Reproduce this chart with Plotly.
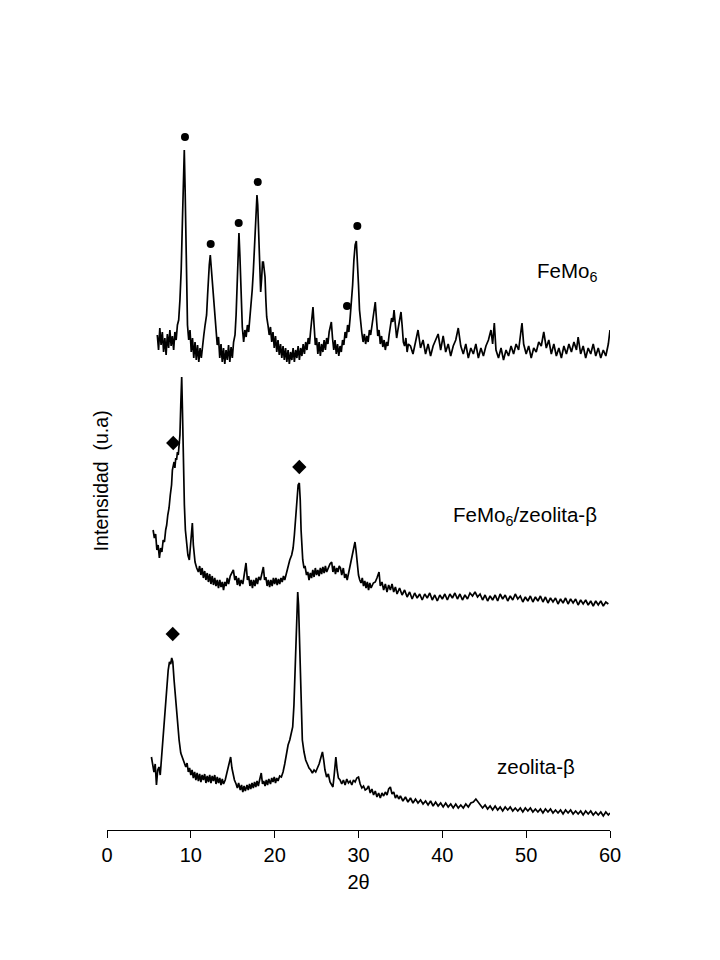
import plotly.graph_objects as go

# ---------------- data (intensity in arbitrary units, curves already stacked) ----------------
femo_x = [
    6.0, 6.15, 6.3, 6.45, 6.6, 6.75, 6.9, 7.05, 7.2, 7.35,
    7.5, 7.65, 7.8, 7.95, 8.1, 8.25, 8.4, 8.55, 8.7, 8.85,
    9.0, 9.1, 9.22, 9.32, 9.42, 9.5, 9.6, 9.75, 9.9, 10.05,
    10.2, 10.35, 10.5, 10.65, 10.8, 10.95, 11.1, 11.25, 11.4, 11.55,
    11.7, 11.88, 12.0, 12.08, 12.2, 12.32, 12.45, 12.6, 12.75, 12.88,
    13.0, 13.15, 13.3, 13.45, 13.6, 13.75, 13.9, 14.05, 14.2, 14.35,
    14.5, 14.65, 14.8, 14.95, 15.1, 15.27, 15.4, 15.55, 15.74, 15.85,
    15.94, 16.05, 16.14, 16.3, 16.45, 16.6, 16.75, 16.9, 17.05, 17.18,
    17.32, 17.45, 17.55, 17.65, 17.78, 17.89, 17.98, 18.09, 18.2, 18.33,
    18.45, 18.55, 18.65, 18.75, 18.85, 18.95, 19.05, 19.2, 19.35, 19.5,
    19.65, 19.8, 19.95, 20.1, 20.25, 20.4, 20.55, 20.7, 20.85, 21.0,
    21.15, 21.3, 21.45, 21.6, 21.75, 21.9, 22.05, 22.2, 22.35, 22.5,
    22.65, 22.8, 22.95, 23.1, 23.25, 23.4, 23.55, 23.7, 23.85, 24.0,
    24.15, 24.3, 24.45, 24.57, 24.7, 24.85, 25.0, 25.15, 25.3, 25.45,
    25.6, 25.75, 25.9, 26.05, 26.2, 26.35, 26.5, 26.62, 26.76, 26.9,
    27.05, 27.2, 27.35, 27.5, 27.65, 27.8, 27.95, 28.1, 28.25, 28.4,
    28.55, 28.7, 28.85, 29.0, 29.15, 29.3, 29.45, 29.6, 29.74, 29.88,
    30.0, 30.12, 30.25, 30.4, 30.55, 30.7, 30.85, 31.0, 31.15, 31.3,
    31.45, 31.6, 31.8, 32.0, 32.15, 32.3, 32.45, 32.6, 32.75, 32.9,
    33.05, 33.2, 33.35, 33.5, 33.65, 33.8, 33.95, 34.1, 34.24, 34.4,
    34.55, 34.7, 34.85, 35.07, 35.2, 35.35, 35.5, 35.65, 35.8, 35.95,
    36.2, 36.5, 36.8, 37.1, 37.4, 37.7, 38.0, 38.3, 38.6, 38.9,
    39.2, 39.5, 39.8, 40.1, 40.4, 40.7, 41.0, 41.3, 41.6, 41.9,
    42.2, 42.5, 42.8, 43.1, 43.4, 43.7, 44.0, 44.3, 44.6, 44.9,
    45.2, 45.5, 45.8, 46.0, 46.2, 46.4, 46.7, 47.0, 47.3, 47.6,
    47.9, 48.2, 48.5, 48.8, 49.1, 49.3, 49.5, 49.7, 50.0, 50.3,
    50.6, 50.9, 51.2, 51.5, 51.8, 52.1, 52.4, 52.7, 53.0, 53.3,
    53.6, 53.9, 54.2, 54.5, 54.8, 55.1, 55.4, 55.7, 56.0, 56.2,
    56.5, 56.8, 57.1, 57.4, 57.7, 58.0, 58.3, 58.6, 58.9, 59.2,
    59.5, 59.8, 60.0,
]
femo_y = [
    495, 480, 502, 485, 498, 478, 492, 475, 496, 482,
    500, 484, 494, 480, 498, 490, 505, 510, 530, 560,
    610, 655, 680, 640, 570, 515, 505, 490, 500, 478,
    492, 472, 488, 470, 485, 468, 482, 472, 488, 495,
    505, 515, 535, 550, 565, 575, 560, 543, 522, 508,
    495, 485, 493, 472, 486, 468, 482, 466, 480, 470,
    485, 468, 483, 472, 488, 495, 515, 560, 597, 575,
    543, 515, 503, 488, 500, 493, 505, 498, 512, 520,
    540, 558, 575, 593, 620, 635, 625, 597, 565, 538,
    552, 568, 568, 560, 553, 530, 513, 505, 495, 503,
    488, 498, 482, 494, 478, 490, 475, 486, 472, 484,
    470, 482, 468, 480, 466, 478, 470, 482, 468, 480,
    472, 484, 470, 482, 474, 486, 476, 488, 480, 492,
    486, 500, 515, 523, 505, 485, 492, 476, 488, 474,
    486, 478, 490, 480, 492, 486, 498, 505, 508, 492,
    480, 490, 476, 486, 474, 484, 478, 490, 485, 498,
    492, 505, 498, 512, 525, 545, 570, 585, 589, 570,
    545, 520, 505, 497, 488, 496, 486, 494, 488, 500,
    495, 505, 515, 528, 510, 494, 500, 486, 494, 483,
    490, 480, 488, 484, 495, 505, 512, 508, 520, 505,
    492, 500, 508, 518, 505, 488, 484, 492, 478, 486,
    484, 476, 488, 500, 482, 490, 476, 486, 474, 484,
    490, 496, 480, 494, 478, 486, 474, 484, 490, 502,
    484, 476, 486, 472, 482, 476, 486, 472, 482, 474,
    484, 490, 500, 486, 507, 480, 472, 482, 470, 480,
    474, 484, 476, 486, 480, 492, 507, 486, 476, 484,
    472, 482, 478, 488, 484, 498, 482, 490, 476, 486,
    474, 482, 472, 484, 476, 486, 478, 488, 480, 493,
    476, 484, 472, 482, 476, 486, 474, 482, 472, 480,
    474, 486, 500,
]

comp_x = [
    5.5, 5.65, 5.8, 5.95, 6.1, 6.25, 6.4, 6.55, 6.7, 6.85,
    7.0, 7.12, 7.25, 7.4, 7.55, 7.7, 7.8, 7.9, 8.0, 8.1,
    8.2, 8.3, 8.4, 8.5, 8.6, 8.7, 8.8, 8.91, 9.0, 9.1,
    9.23, 9.35, 9.5, 9.65, 9.82, 9.95, 10.05, 10.18, 10.3, 10.5,
    10.7, 10.9, 11.05, 11.2, 11.35, 11.5, 11.65, 11.8, 11.95, 12.1,
    12.25, 12.4, 12.55, 12.7, 12.85, 13.0, 13.15, 13.3, 13.45, 13.6,
    13.75, 13.9, 14.05, 14.2, 14.35, 14.5, 14.7, 14.9, 15.07, 15.25,
    15.4, 15.55, 15.7, 15.85, 16.0, 16.2, 16.4, 16.58, 16.75, 16.9,
    17.05, 17.2, 17.35, 17.5, 17.65, 17.8, 17.95, 18.1, 18.3, 18.5,
    18.65, 18.8, 18.95, 19.1, 19.25, 19.4, 19.55, 19.7, 19.85, 20.0,
    20.15, 20.3, 20.45, 20.6, 20.75, 20.9, 21.05, 21.2, 21.43, 21.6,
    21.8, 22.03, 22.2, 22.35, 22.5, 22.63, 22.8, 22.94, 23.05, 23.15,
    23.22, 23.35, 23.5, 23.62, 23.8, 23.95, 24.1, 24.25, 24.4, 24.55,
    24.7, 24.85, 25.0, 25.15, 25.3, 25.45, 25.6, 25.75, 25.9, 26.05,
    26.2, 26.4, 26.6, 26.8, 26.95, 27.1, 27.25, 27.4, 27.55, 27.7,
    27.85, 28.0, 28.19, 28.35, 28.5, 28.65, 28.8, 28.95, 29.1, 29.3,
    29.45, 29.58, 29.7, 29.85, 30.0, 30.15, 30.3, 30.45, 30.6, 30.75,
    30.9, 31.05, 31.2, 31.35, 31.5, 31.77, 32.0, 32.2, 32.45, 32.6,
    32.8, 33.0, 33.2, 33.4, 33.6, 33.8, 34.0, 34.2, 34.4, 34.6,
    34.9, 35.2, 35.5, 35.8, 36.1, 36.4, 36.7, 37.0, 37.3, 37.6,
    37.9, 38.2, 38.5, 38.8, 39.1, 39.4, 39.7, 40.0, 40.3, 40.6,
    40.9, 41.2, 41.5, 41.8, 42.1, 42.4, 42.7, 43.0, 43.3, 43.6,
    43.9, 44.2, 44.5, 44.8, 45.1, 45.4, 45.7, 46.0, 46.3, 46.6,
    46.9, 47.2, 47.5, 47.8, 48.1, 48.4, 48.7, 49.0, 49.3, 49.6,
    49.9, 50.2, 50.5, 50.8, 51.1, 51.4, 51.7, 52.0, 52.3, 52.6,
    52.9, 53.2, 53.5, 53.8, 54.1, 54.4, 54.7, 55.0, 55.3, 55.6,
    55.9, 56.2, 56.5, 56.8, 57.1, 57.4, 57.7, 58.0, 58.3, 58.6,
    58.9, 59.2, 59.5, 59.8,
]
comp_y = [
    300, 292, 296, 280, 285, 272, 282, 278, 290, 288,
    300, 305, 315, 322, 335, 345, 360, 365, 368, 362,
    372, 370, 378, 375, 385, 395, 425, 453, 420, 360,
    325, 300, 283, 275, 270, 282, 295, 307, 285, 268,
    262, 258, 264, 255, 262, 252, 259, 250, 257, 248,
    256, 246, 254, 245, 252, 244, 250, 242, 250, 243,
    248, 240, 248, 244, 252, 246, 254, 258, 260, 250,
    254, 245, 252, 244, 250, 246, 255, 267, 250, 254,
    244, 250, 242, 250, 244, 252, 246, 253, 250, 258,
    263, 250, 253, 244, 250, 243, 250, 244, 252, 246,
    252, 245, 251, 246, 252, 248, 254, 250, 258, 264,
    270, 275, 282, 295, 315, 330, 345, 347, 330, 300,
    285, 270, 262, 264, 255, 258, 250, 257, 252, 260,
    253, 262, 255, 260, 254, 262, 256, 263, 257, 264,
    258, 262, 266, 268, 258, 264, 256, 262, 258, 264,
    262, 255, 262, 252, 256, 250, 256, 262, 268, 278,
    285, 288, 280, 265, 255, 250, 247, 252, 244, 249,
    242, 248, 240, 247, 242, 247, 248, 252, 258, 244,
    248, 240, 246, 238, 245, 240, 246, 238, 243, 236,
    242, 235, 240, 233, 238, 231, 237, 232, 236, 230,
    236, 232, 237, 230, 235, 229, 235, 231, 236, 230,
    236, 232, 237, 231, 236, 230, 235, 231, 237, 234,
    238, 233, 236, 230, 235, 229, 234, 230, 235, 229,
    236, 231, 235, 229, 234, 230, 236, 231, 234, 228,
    233, 229, 234, 228, 233, 229, 234, 228, 233, 227,
    232, 228, 232, 226, 231, 227, 232, 226, 231, 227,
    231, 225, 230, 226, 230, 225, 229, 224, 229, 225,
    229, 224, 228, 226,
]

zeo_x = [
    5.3, 5.45, 5.6, 5.75, 5.9, 6.05, 6.2, 6.35, 6.5, 6.65,
    6.8, 7.0, 7.15, 7.3, 7.45, 7.6, 7.72, 7.85, 8.0, 8.15,
    8.3, 8.45, 8.6, 8.8, 9.0, 9.2, 9.4, 9.55, 9.7, 9.85,
    10.0, 10.15, 10.3, 10.45, 10.6, 10.75, 10.9, 11.05, 11.2, 11.35,
    11.5, 11.65, 11.8, 11.95, 12.1, 12.25, 12.4, 12.55, 12.7, 12.85,
    13.0, 13.15, 13.3, 13.45, 13.6, 13.75, 13.9, 14.1, 14.3, 14.5,
    14.75, 14.9, 15.05, 15.2, 15.4, 15.55, 15.7, 15.9, 16.05, 16.2,
    16.35, 16.5, 16.7, 16.85, 17.0, 17.15, 17.3, 17.45, 17.6, 17.75,
    17.9, 18.05, 18.2, 18.4, 18.55, 18.7, 18.85, 19.0, 19.15, 19.3,
    19.5, 19.65, 19.8, 19.95, 20.1, 20.25, 20.4, 20.6, 20.8, 21.0,
    21.2, 21.4, 21.6, 21.8, 22.0, 22.15, 22.3, 22.45, 22.55, 22.65,
    22.75, 22.85, 22.95, 23.05, 23.15, 23.3, 23.5, 23.7, 23.9, 24.1,
    24.3, 24.5, 24.7, 24.9, 25.1, 25.3, 25.5, 25.7, 25.85, 26.0,
    26.2, 26.4, 26.6, 26.8, 26.95, 27.1, 27.3, 27.45, 27.6, 27.8,
    28.0, 28.2, 28.4, 28.6, 28.8, 29.0, 29.2, 29.4, 29.6, 29.8,
    30.0, 30.2, 30.4, 30.6, 30.8, 31.0, 31.2, 31.4, 31.6, 31.8,
    32.0, 32.2, 32.4, 32.6, 32.8, 33.0, 33.2, 33.4, 33.6, 33.8,
    34.0, 34.2, 34.4, 34.6, 34.8, 35.0, 35.3, 35.6, 35.9, 36.2,
    36.5, 36.8, 37.1, 37.4, 37.7, 38.0, 38.3, 38.6, 38.9, 39.2,
    39.5, 39.8, 40.1, 40.4, 40.7, 41.0, 41.3, 41.6, 41.9, 42.2,
    42.5, 42.8, 43.1, 43.4, 43.7, 44.0, 44.2, 44.5, 44.8, 45.1,
    45.4, 45.7, 46.0, 46.3, 46.6, 46.9, 47.2, 47.5, 47.8, 48.1,
    48.4, 48.7, 49.0, 49.3, 49.6, 49.9, 50.2, 50.5, 50.8, 51.1,
    51.4, 51.7, 52.0, 52.3, 52.6, 52.9, 53.2, 53.5, 53.8, 54.1,
    54.4, 54.7, 55.0, 55.3, 55.6, 55.9, 56.2, 56.5, 56.8, 57.1,
    57.4, 57.7, 58.0, 58.3, 58.6, 58.9, 59.2, 59.5, 59.8, 60.0,
]
zeo_y = [
    73, 65, 58, 66, 45, 60, 63, 55, 72, 83,
    100, 127, 145, 160, 168, 166, 172, 168, 150, 135,
    118, 102, 90, 77, 72, 68, 63, 67, 58, 62,
    55, 60, 52, 58, 50, 57, 49, 56, 48, 55,
    50, 56, 47, 54, 48, 55, 47, 54, 49, 55,
    46, 53, 47, 52, 45, 51, 46, 50, 58, 66,
    73, 62, 55, 50, 46, 42, 47, 40, 45, 38,
    44, 39, 45, 40, 46, 41, 47, 42, 48, 43,
    49, 44, 50, 57, 46, 49, 44, 50, 45, 51,
    46, 52, 48, 53, 47, 52, 49, 54, 53, 58,
    66, 77, 85, 90, 98, 103, 125, 165, 200, 230,
    238, 225, 190, 150, 115, 90, 78, 70, 66, 62,
    60, 57, 60, 58, 62, 66, 72, 78, 70, 60,
    53, 56, 48, 45, 43, 55, 73, 60, 52, 50,
    46, 50, 45, 51, 47, 49, 45, 50, 48, 52,
    53, 46, 42, 44, 40, 41, 44, 37, 41, 35,
    39, 33, 37, 32, 37, 34, 38, 35, 41, 43,
    36, 38, 32, 35, 31, 34, 29, 33, 28, 32,
    27, 31, 27, 30, 26, 29, 25, 29, 24, 28,
    24, 27, 23, 27, 23, 26, 22, 26, 22, 25,
    22, 26, 23, 27, 28, 31, 29, 25, 22, 25,
    21, 24, 20, 24, 20, 23, 19, 23, 20, 23,
    19, 22, 19, 22, 18, 22, 19, 22, 18, 21,
    18, 21, 17, 21, 18, 21, 17, 20, 17, 20,
    16, 20, 17, 20, 16, 19, 16, 19, 15, 19,
    16, 19, 15, 18, 15, 18, 14, 18, 15, 17,
]

# peak markers
dot_x = [9.3, 12.37, 15.71, 17.98, 28.63, 29.86]
dot_y = [693, 586, 607, 648, 524, 604]
diamond_x = [7.9, 22.94, 7.84]
diamond_y = [387, 363, 196]

# series labels
label_text = ["FeMo<sub>6</sub>", "FeMo<sub>6</sub>/zeolita-β", "zeolita-β"]
label_x = [54.9, 49.9, 51.2]
label_y = [558, 314, 64]

x_ticks = [0, 10, 20, 30, 40, 50, 60]

FONT = "Liberation Sans, Arial, sans-serif"

fig = go.Figure()
for xs, ys in [(femo_x, femo_y), (comp_x, comp_y), (zeo_x, zeo_y)]:
    fig.add_trace(go.Scatter(x=xs, y=ys, mode="lines",
                             line=dict(color="black", width=1.7),
                             showlegend=False, hoverinfo="skip"))

fig.add_trace(go.Scatter(x=dot_x, y=dot_y, mode="markers",
                         marker=dict(symbol="circle", size=8, color="black"),
                         showlegend=False))
fig.add_trace(go.Scatter(x=diamond_x, y=diamond_y, mode="markers",
                         marker=dict(symbol="diamond", size=11, color="black"),
                         showlegend=False))

for t, lx, ly in zip(label_text, label_x, label_y):
    fig.add_annotation(x=lx, y=ly, xref="x", yref="y", text=t, showarrow=False,
                       font=dict(family=FONT, size=20.5, color="black"),
                       xanchor="center", yanchor="middle")

fig.add_annotation(x=-0.012, y=0.479, xref="paper", yref="paper",
                   text="Intensidad\u00a0 (u.a)", textangle=-90, showarrow=False,
                   font=dict(family=FONT, size=19.5, color="black"),
                   xanchor="center", yanchor="middle")

fig.update_layout(
    width=720, height=960,
    margin=dict(l=99, r=118, t=92, b=138),
    paper_bgcolor="white", plot_bgcolor="white",
    font=dict(family=FONT, size=20, color="black"),
    xaxis=dict(range=[0, 60], tickvals=x_ticks, showline=True, linecolor="black",
               linewidth=1, ticks="outside", ticklen=7, tickcolor="black",
               tickfont=dict(family=FONT, size=20, color="black"),
               showgrid=False, zeroline=False,
               title=dict(text="2θ", font=dict(family=FONT, size=20, color="black"),
                          standoff=9)),
    yaxis=dict(range=[0, 730], visible=False),
)

fig.write_html("out.html")
